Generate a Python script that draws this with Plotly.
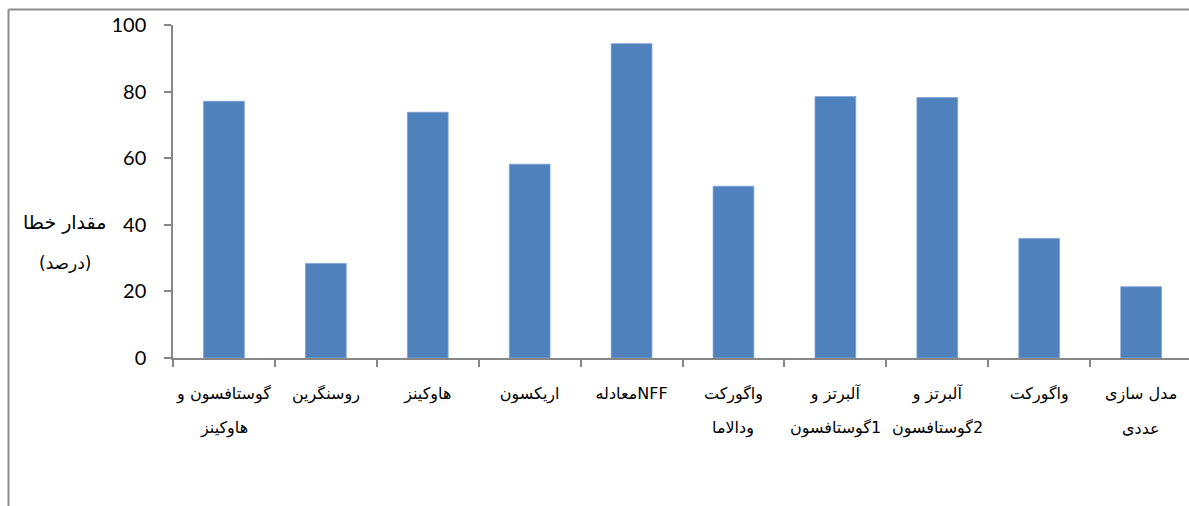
import plotly.graph_objects as go

# Error percentage per method
methods = ["m1", "m2", "m3", "m4", "m5", "m6", "m7", "m8", "m9", "m10"]
label_line1 = [
    "گوستافسون و",
    "روسنگرین",
    "هاوکینز",
    "اریکسون",
    "معادلهNFF",
    "واگورکت",
    "آلبرتز و",
    "آلبرتز و",
    "واگورکت",
    "مدل سازی",
]
label_line2 = [
    "هاوکینز",
    "",
    "",
    "",
    "",
    "ودالاما",
    "گوستافسون\u200e1",
    "گوستافسون\u200e2",
    "",
    "عددی",
]
error_pct = [77.1, 28.4, 73.8, 58.2, 94.4, 51.6, 78.5, 78.2, 35.9, 21.4]
y_ticks = [0, 20, 40, 60, 80, 100]

BAR = "#4F81BD"
AXIS = "#878787"
ARABIC = "Tahoma, DejaVu Sans, sans-serif"

W, H = 1189, 506
ML, MR, MT, MB = 173, 0, 25, 148
pw, ph = W - ML - MR, H - MT - MB


def px_x(x):
    return (x - ML) / pw


def px_y(y):
    return (H - MB - y) / ph


fig = go.Figure(
    go.Bar(
        x=methods,
        y=error_pct,
        marker=dict(color=BAR, line=dict(color="#7FA3D4", width=0.8)),
        width=0.4,
    )
)

annotations = [
    dict(
        x=m, y=0, xref="x", yref="paper", text=t, showarrow=False,
        xanchor="center", yanchor="middle", yshift=-70,
        font=dict(family=ARABIC, size=16, color="#000"),
    )
    for m, t in zip(methods, label_line2) if t
]
annotations += [
    dict(x=px_x(64), y=px_y(222), xref="paper", yref="paper", text="مقدار خطا",
         showarrow=False, xanchor="center", yanchor="middle",
         font=dict(family=ARABIC, size=19, color="#000")),
    dict(x=px_x(65), y=px_y(263), xref="paper", yref="paper", text="(درصد)",
         showarrow=False, xanchor="center", yanchor="middle",
         font=dict(family=ARABIC, size=17, color="#000")),
]

fig.update_layout(
    width=W, height=H,
    margin=dict(l=ML, r=MR, t=MT, b=MB, autoexpand=False),
    paper_bgcolor="white", plot_bgcolor="white",
    showlegend=False,
    annotations=annotations,
    xaxis=dict(
        type="category",
        range=[-0.5, 9.47],
        tickmode="array", tickvals=methods, ticktext=label_line1,
        tickson="boundaries", ticks="outside", ticklen=7, tickcolor=AXIS, tickwidth=1.5,
        showline=True, linecolor=AXIS, linewidth=1.5,
        showgrid=False, zeroline=False,
        tickfont=dict(family=ARABIC, size=16, color="#000"),
        tickangle=0, automargin=False,
        ticklabelstandoff=20,
        fixedrange=True,
    ),
    yaxis=dict(
        range=[0, 100],
        tickmode="array", tickvals=y_ticks,
        ticks="outside", ticklen=7, tickcolor=AXIS, tickwidth=1.5,
        showline=True, linecolor=AXIS, linewidth=1.5,
        showgrid=False, zeroline=False, automargin=False,
        tickfont=dict(family="Lato, sans-serif", size=20, color="#000"),
        ticklabelstandoff=14,
    ),
    shapes=[
        # outer frame (left and top edges)
        dict(type="line", xref="paper", yref="paper",
             x0=px_x(8.5), x1=px_x(8.5), y0=px_y(9.5), y1=-1,
             line=dict(color="#8C8C8C", width=2)),
        dict(type="line", xref="paper", yref="paper",
             x0=px_x(8.5), x1=1.05, y0=px_y(9.5), y1=px_y(9.5),
             line=dict(color="#8C8C8C", width=2)),
    ],
)

fig.write_html("out.html")
